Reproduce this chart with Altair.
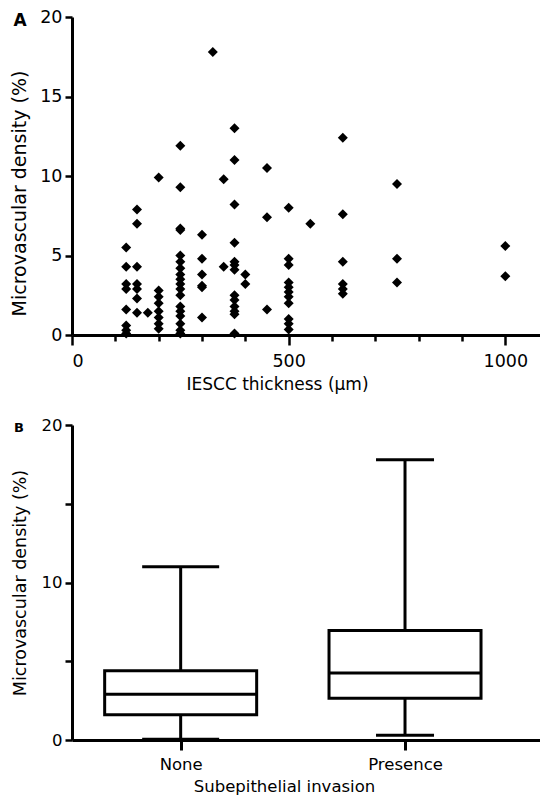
import altair as alt
import pandas as pd

FONT = "DejaVu Sans"

# Panel A: IESCC thickness (um) vs microvascular density (%)
thickness = (
    [125] * 8 + [150] * 7 + [175] + [200] * 8 + [250] * 18 + [300] * 6 + [325]
    + [350] * 2 + [375] * 13 + [400] * 2 + [450] * 3 + [500] * 11 + [550]
    + [625] * 6 + [750] * 3 + [1000] * 2
)
density = (
    [5.5, 4.3, 3.2, 2.9, 1.6, 0.6, 0.3, 0.1]
    + [7.9, 7.0, 4.3, 3.2, 2.9, 2.3, 1.4]
    + [1.4]
    + [9.9, 2.8, 2.4, 2.0, 1.5, 1.1, 0.7, 0.4]
    + [11.9, 9.3, 6.7, 6.6, 5.0, 4.6, 4.2, 3.8, 3.5, 3.2, 2.9, 2.5, 1.8, 1.5, 1.2, 0.7, 0.3, 0.1]
    + [6.3, 4.8, 3.8, 3.1, 3.0, 1.1]
    + [17.8]
    + [9.8, 4.3]
    + [13.0, 11.0, 8.2, 5.8, 4.6, 4.4, 4.1, 2.5, 2.2, 1.8, 1.5, 1.3, 0.1]
    + [3.8, 3.2]
    + [10.5, 7.4, 1.6]
    + [8.0, 4.8, 4.4, 3.3, 3.0, 2.7, 2.4, 2.0, 1.0, 0.7, 0.35]
    + [7.0]
    + [12.4, 7.6, 4.6, 3.2, 2.9, 2.6]
    + [9.5, 4.8, 3.3]
    + [5.6, 3.7]
)

# Panel B: box plot summary
groups = ["None", "Presence"]
mins = [0.05, 0.3]
q1s = [1.6, 2.65]
medians = [2.9, 4.25]
q3s = [4.4, 6.95]
maxs = [11.0, 17.8]

x_ticks_a = list(range(0, 1001, 100))
y_ticks = [0, 5, 10, 15, 20]

df_a = pd.DataFrame({"thickness": thickness, "density": density})
df_b = pd.DataFrame({"group": groups, "lo": mins, "q1": q1s, "med": medians,
                     "q3": q3s, "hi": maxs})

xa = alt.X(
    "thickness:Q",
    scale=alt.Scale(domain=[0, 1080], nice=False, zero=True),
    axis=alt.Axis(
        title="IESCC thickness (μm)", values=x_ticks_a, format="d",
        labelExpr="datum.value % 500 === 0 ? datum.label : ''",
        tickSize={"condition": {"test": "datum.value % 500 === 0", "value": 10}, "value": 6},
        tickWidth=2.5, domainWidth=3, labelFontSize=17.5, titleFontSize=17,
        labelPadding=7, titlePadding=7, titleX=205, grid=False,
    ),
)
ya = alt.Y(
    "density:Q",
    scale=alt.Scale(domain=[0, 20], nice=False),
    axis=alt.Axis(
        title="Microvascular density (%)", values=y_ticks, tickSize=7,
        tickWidth=2.5, domainWidth=3, labelFontSize=17.5, titleFontSize=19,
        labelPadding=3, titlePadding=10, titleY=176, grid=False,
    ),
)

pts = alt.Chart(df_a).mark_point(
    shape="diamond", filled=True, color="black", size=100, opacity=1
).encode(x=xa, y=ya)

lab_a = alt.Chart(pd.DataFrame({"label": ["A"]})).mark_text(
    font=FONT, fontSize=17, fontWeight="bold", color="black"
).encode(text="label:N", x=alt.value(-52), y=alt.value(4))

chart_a = alt.layer(pts, lab_a).properties(width=468, height=318)

xb = alt.X(
    "group:N",
    sort=groups,
    scale=alt.Scale(type="point", padding=0.543, align=0.446),
    axis=alt.Axis(
        title="Subepithelial invasion", labelAngle=0, tickSize=10, tickWidth=3,
        domainWidth=3, labelFontSize=16.5, titleFontSize=16.5,
        labelPadding=6, titlePadding=6, titleX=212, grid=False,
    ),
)
yscale_b = alt.Scale(domain=[0, 20], nice=False)
yaxis_b = alt.Axis(
    title="Microvascular density (%)", values=y_ticks,
    labelExpr="datum.value % 10 === 0 ? datum.label : ''",
    tickSize=7, tickWidth=2.5, domainWidth=3, labelFontSize=16.5,
    titleFontSize=17.5, labelPadding=3, titlePadding=12, grid=False,
)

base_b = alt.Chart(df_b)
whisk = base_b.mark_rule(color="black", strokeWidth=3).encode(
    x=xb, y=alt.Y("lo:Q", scale=yscale_b, axis=yaxis_b), y2="hi:Q"
)
box = base_b.mark_bar(size=152, fill="white", stroke="black", strokeWidth=3).encode(
    x=xb, y=alt.Y("q1:Q", scale=yscale_b, axis=yaxis_b), y2="q3:Q"
)
med = base_b.mark_tick(size=153, thickness=3, color="black", opacity=1).encode(
    x=xb, y=alt.Y("med:Q", scale=yscale_b, axis=yaxis_b)
)
cap_size = alt.condition(alt.datum.group == "None", alt.value(77), alt.value(58))
cap_hi = base_b.mark_tick(thickness=3, color="black", opacity=1).encode(
    x=xb, y=alt.Y("hi:Q", scale=yscale_b, axis=yaxis_b), size=cap_size
)
cap_lo = base_b.mark_tick(thickness=3, color="black", opacity=1).encode(
    x=xb, y=alt.Y("lo:Q", scale=yscale_b, axis=yaxis_b), size=cap_size
)
lab_b = alt.Chart(pd.DataFrame({"label": ["B"]})).mark_text(
    font=FONT, fontSize=13, fontWeight="bold", color="black"
).encode(text="label:N", x=alt.value(-53), y=alt.value(3))

chart_b = alt.layer(whisk, box, med, cap_hi, cap_lo, lab_b).properties(width=468, height=315)

chart = (
    alt.vconcat(chart_a, chart_b, spacing=24)
    .properties(padding={"left": 2, "top": 0, "right": 0, "bottom": 0})
    .configure_view(stroke=None)
    .configure_axis(
        labelFont=FONT, titleFont=FONT, labelColor="black", titleColor="black",
        domainColor="black", tickColor="black", titleFontWeight="normal",
    )
)

chart.save("out.html", embed_options={"renderer": "svg", "actions": False})
